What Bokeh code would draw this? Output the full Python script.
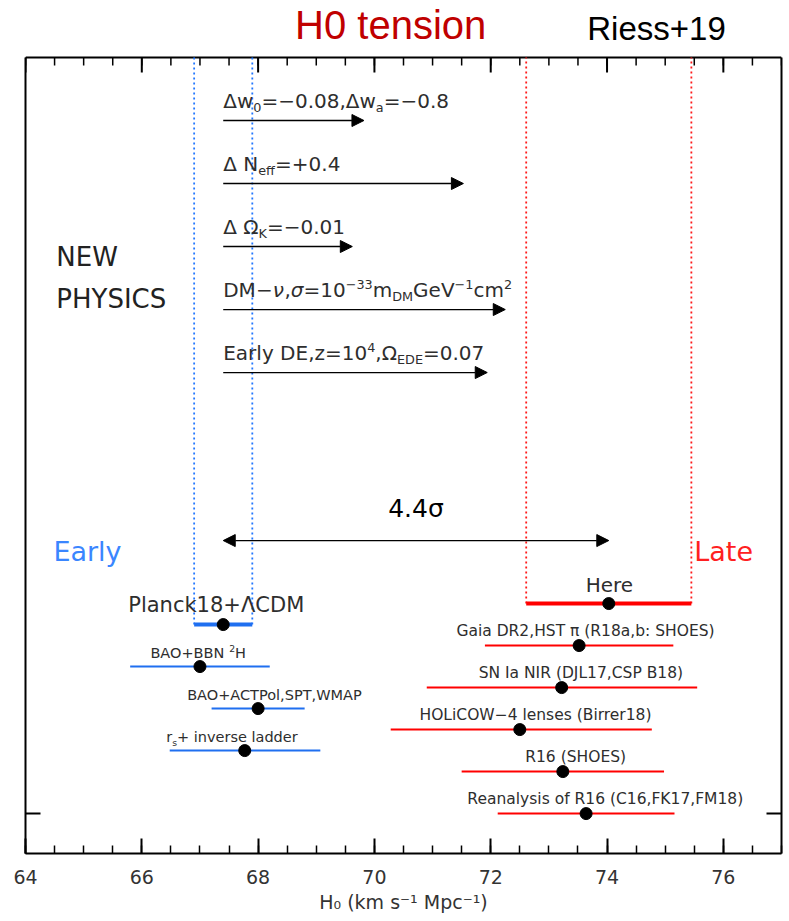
from bokeh.plotting import figure
from bokeh.models import Label, Arrow, NormalHead, FixedTicker, Range1d, ColumnDataSource, LinearAxis
from bokeh.embed import file_html
from bokeh.resources import INLINE

# ---------------- data ----------------
x_ticks = [64, 66, 68, 70, 72, 74, 76]
x_minor = [64 + 0.5 * i for i in range(27)]
x_min, x_max = 64, 77
y_min, y_box = -0.95, 18.0          # extent of the boxed panel

early_names = ["Planck18+ΛCDM", "BAO+BBN ²H", "BAO+ACTPol,SPT,WMAP", "rs+ inverse ladder"]
early_h0 = [67.4, 67.0, 68.0, 67.77]
early_lo = [66.9, 65.8, 67.2, 66.48]
early_hi = [67.9, 68.2, 68.8, 69.07]
early_row = [4.5, 3.5, 2.5, 1.5]
early_label_x = [67.28, 66.97, 68.28, 67.55]

late_names = ["Here", "Gaia DR2,HST π (R18a,b: SHOES)", "SN Ia NIR (DJL17,CSP B18)",
              "HOLiCOW−4 lenses (Birrer18)", "R16 (SHOES)", "Reanalysis of R16 (C16,FK17,FM18)"]
late_h0 = [74.03, 73.52, 73.22, 72.5, 73.24, 73.64]
late_lo = [72.61, 71.9, 70.9, 70.28, 71.5, 72.12]
late_hi = [75.45, 75.14, 75.55, 74.77, 74.98, 75.16]
late_row = [5, 4, 3, 2, 1, 0]
late_label_x = [74.04, 73.63, 73.55, 72.77, 73.46, 73.97]

physics_start = [67.4, 67.4, 67.4, 67.4, 67.4]
physics_end = [69.82, 71.53, 69.62, 72.25, 71.94]
physics_row = [16.5, 15.0, 13.5, 12.0, 10.5]
physics_labels = [
    [("Δw", "n"), ("0", "sub"), ("=−0.08,Δw", "n"), ("a", "sub"), ("=−0.8", "n")],
    [("Δ N", "n"), ("eff", "sub"), ("=+0.4", "n")],
    [("Δ Ω", "n"), ("K", "sub"), ("=−0.01", "n")],
    [("DM−", "n"), ("ν", "i"), (",", "n"), ("σ", "i"), ("=10", "n"), ("−33", "sup"), ("m", "n"),
     ("DM", "sub"), ("GeV", "n"), ("−1", "sup"), ("cm", "n"), ("2", "sup")],
    [("Early DE,z=10", "n"), ("4", "sup"), (",Ω", "n"), ("EDE", "sub"), ("=0.07", "n")],
]

tension_row = 6.5
tension_label = "4.4σ"

# ---------------- styling ----------------
FONT = "DejaVu Sans"
TXT = "#2e2e2e"
BLUE = "#1f6ff0"
BLUE_T = "#3a86ff"
RED = "#ff0000"
RED_T = "#ff2020"
KB = 0.4  # anchor-to-baseline factor

W = {' ': .318, '(': .390, ')': .390, '+': .838, ',': .318, '-': .361, '.': .318, ':': .337,
     '=': .838, '−': .838, 'Δ': .684, 'Λ': .684, 'Ω': .764, 'ν': .592, 'σ': .634, 'π': .602,
     'A': .684, 'B': .686, 'C': .698, 'D': .770, 'E': .632, 'F': .575, 'G': .775, 'H': .752,
     'I': .295, 'K': .656, 'L': .557, 'M': .863, 'N': .748, 'O': .787, 'P': .603, 'R': .695,
     'S': .635, 'T': .611, 'V': .684, 'W': .989, 'Y': .611,
     'a': .613, 'b': .635, 'c': .550, 'd': .635, 'e': .615, 'f': .352, 'g': .635, 'h': .634,
     'i': .278, 'k': .579, 'l': .278, 'm': .974, 'n': .634, 'o': .612, 'p': .635, 'r': .411,
     's': .521, 't': .392, 'u': .634, 'v': .592, 'w': .818, 'y': .592, 'z': .525}
for d in "0123456789":
    W[d] = .636


def tw(s, size):
    return sum(W.get(c, 0.62) for c in s) * size


PXX = 756 / (x_max - x_min)     # pixels per H0 unit
PXY = 796 / (y_box - y_min)     # pixels per row unit
y_top = y_box + 57 / PXY        # frame reaches to the top of the page (room for titles)

p = figure(width=789, height=921, x_range=Range1d(x_min, x_max), y_range=Range1d(y_min, y_top),
           output_backend="svg", toolbar_location=None,
           min_border_left=25, min_border_right=8, min_border_top=0, min_border_bottom=68)
p.grid.visible = False
p.outline_line_color = None

ax = p.xaxis[0]
ax.ticker = FixedTicker(ticks=x_ticks, minor_ticks=x_minor)
ax.major_tick_in = 15
ax.major_tick_out = 0
ax.minor_tick_in = 8
ax.minor_tick_out = 0
ax.major_tick_line_width = 2
ax.minor_tick_line_width = 1.5
ax.axis_line_width = 2
ax.major_label_text_font = FONT
ax.major_label_text_font_size = "19px"
ax.major_label_text_color = "#333333"
ax.major_label_standoff = 16
ax.axis_label = "H₀ (km s⁻¹ Mpc⁻¹)"
ax.axis_label_text_font = FONT
ax.axis_label_text_font_size = "19px"
ax.axis_label_text_font_style = "normal"
ax.axis_label_text_color = "#333333"
ax.axis_label_standoff = 4

yax = p.yaxis[0]
yax.ticker = FixedTicker(ticks=[], minor_ticks=[])
yax.bounds = (y_min, y_box)
yax.axis_line_width = 2
yax.major_label_standoff = 0
yax.major_tick_out = 0
yax.minor_tick_out = 0
p.add_layout(LinearAxis(ticker=FixedTicker(ticks=[], minor_ticks=[]), bounds=(y_min, y_box),
                        axis_line_width=2, major_label_standoff=0, major_tick_out=0, minor_tick_out=0),
             "right")

# top border, mirrored ticks on top, and the single y tick on both sides
p.segment(x0=[x_min], x1=[x_max], y0=[y_box], y1=[y_box], line_color="black", line_width=2)
p.segment(x0=x_ticks, x1=x_ticks, y0=[y_box] * len(x_ticks), y1=[y_box - 15 / PXY] * len(x_ticks),
          line_color="black", line_width=2)
p.segment(x0=x_minor, x1=x_minor, y0=[y_box] * len(x_minor), y1=[y_box - 8 / PXY] * len(x_minor),
          line_color="black", line_width=1.5)
p.segment(x0=[x_min, x_max - 15 / PXX], x1=[x_min + 15 / PXX, x_max],
          y0=[late_row[-1]] * 2, y1=[late_row[-1]] * 2, line_color="black", line_width=2)

# dotted boundary lines
p.segment(x0=[early_lo[0], early_hi[0]], x1=[early_lo[0], early_hi[0]],
          y0=[early_row[0]] * 2, y1=[y_box] * 2, line_color="#2277ff", line_width=1.8, line_dash="2 3")
p.segment(x0=[late_lo[0], late_hi[0]], x1=[late_lo[0], late_hi[0]],
          y0=[late_row[0]] * 2, y1=[y_box] * 2, line_color="#ff1a1a", line_width=1.8, line_dash="2 3")

# error bars
ew = [4] + [2] * (len(early_h0) - 1)
lw = [4] + [2] * (len(late_h0) - 1)
p.segment(x0=early_lo, x1=early_hi, y0=early_row, y1=early_row, line_color=BLUE, line_width=ew)
p.segment(x0=late_lo, x1=late_hi, y0=late_row, y1=late_row, line_color=RED, line_width=lw)
p.scatter(early_h0, early_row, size=12, color="black")
p.scatter(late_h0, late_row, size=12, color="black")

# physics arrows
src = ColumnDataSource(dict(x0=physics_start, x1=physics_end, y=physics_row))
p.add_layout(Arrow(source=src, x_start="x0", x_end="x1", y_start="y", y_end="y",
                   line_color="black", line_width=1.3,
                   end=NormalHead(size=12, fill_color="black", line_color="black")))

# tension arrow
p.add_layout(Arrow(x_start=early_h0[0], x_end=late_h0[0], y_start=tension_row, y_end=tension_row,
                   line_color="black", line_width=1.3,
                   start=NormalHead(size=12, fill_color="black", line_color="black"),
                   end=NormalHead(size=12, fill_color="black", line_color="black")))


def lab(text, x, y, size, color, align="left", gap=0.0, font=FONT, style="normal", xoff=0.0):
    p.add_layout(Label(x=x, y=y, x_offset=xoff, y_offset=gap + KB * size, text=text, text_font=font,
                       text_font_size=f"{size:.1f}px", text_color=color, text_font_style=style,
                       text_align=align, text_baseline="alphabetic"))


def rich(segs, x, y, size, color, align="left", gap=0.0):
    sub = 0.64
    sizes = [size * sub if m in ("sub", "sup") else size for _, m in segs]
    widths = [tw(t, s) for (t, _), s in zip(segs, sizes)]
    total = sum(widths)
    cur = 0.0 if align == "left" else -total / 2
    for (t, m), s, w in zip(segs, sizes, widths):
        dy = {"sub": -0.22 * size, "sup": 0.42 * size}.get(m, 0.0)
        lab(t.strip(), x, y, s, color, "left", gap + dy, style="italic" if m == "i" else "normal",
            xoff=cur + (tw(" ", s) if t.startswith(" ") else 0.0))
        cur += w


lab(tension_label, (early_h0[0] + late_h0[0]) / 2, tension_row, 25, "black", "center", 22)

for segs, x0, row in zip(physics_labels, physics_start, physics_row):
    rich(segs, x0, row, 20, TXT, "left", 12)

# early labels
for i, (name, lx, row) in enumerate(zip(early_names, early_label_x, early_row)):
    if i == 0:
        lab(name, lx, row, 21, TXT, "center", 11)
    elif name.startswith("rs"):
        rich([("r", "n"), ("s", "sub"), (name[2:], "n")], lx, row, 14.5, TXT, "center", 8)
    elif "²" in name:
        a, b = name.split("²")
        rich([(a, "n"), ("2", "sup"), (b, "n")], lx, row, 14.5, TXT, "center", 8)
    else:
        lab(name, lx, row, 14.5, TXT, "center", 8)

for i, (name, lx, row) in enumerate(zip(late_names, late_label_x, late_row)):
    if i == 0:
        lab(name, lx, row, 20, TXT, "center", 11)
    else:
        lab(name, lx, row, 15.5, TXT, "center", 8)

# region titles
lab("Early", 64.48, 5.98, 27, BLUE_T)
lab("Late", 75.5, 5.98, 27, RED_T)
lab("NEW", 64.53, 13.0, 26, "#222222")
lab("PHYSICS", 64.53, 12.0, 26, "#222222")

# titles
lab("H0 tension", 70.28, 18.45, 40, "#c00000", "center", -2.5, font="Liberation Sans")
lab("Riess+19", 73.66, 18.4, 33, "black", "left", -1.0, font="Liberation Sans")

open("out.html", "w").write(file_html(p, INLINE))
